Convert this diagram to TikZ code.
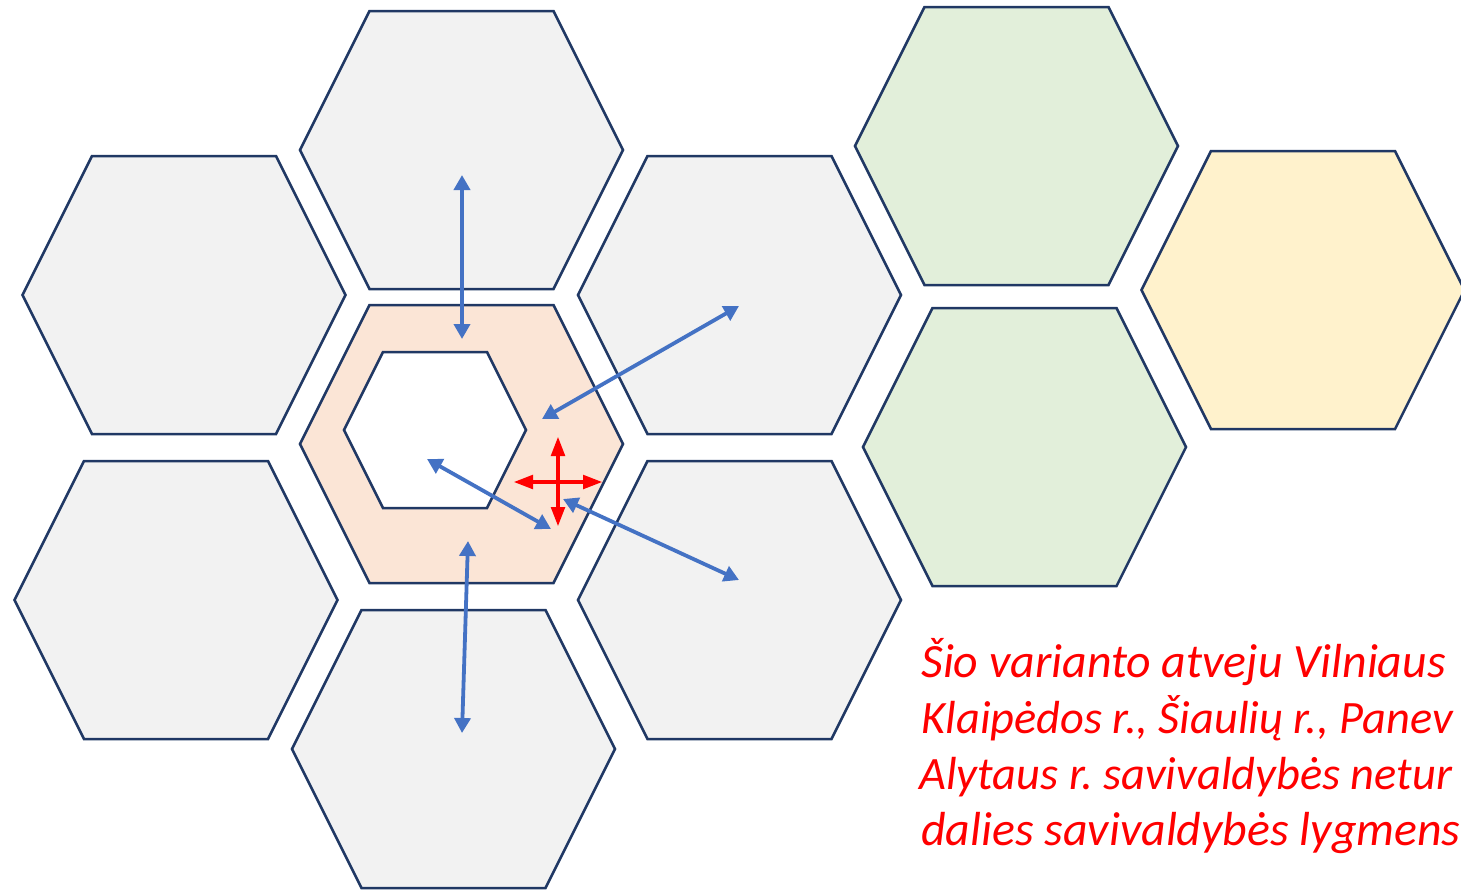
\documentclass[tikz,border=0pt]{standalone}
\usepackage{fontspec}
\newfontfamily\calib{Carlito}
\usetikzlibrary{arrows.meta}
\frenchspacing
\definecolor{hexline}{HTML}{203864}
\definecolor{hexgray}{HTML}{F2F2F2}
\definecolor{hexpeach}{HTML}{FBE5D6}
\definecolor{hexgreen}{HTML}{E2EFDA}
\definecolor{hexyellow}{HTML}{FFF2CC}
\definecolor{arrblue}{HTML}{4472C4}
\definecolor{arrred}{HTML}{FF0000}
\tikzset{
  hexstroke/.style={draw=hexline,line width=1.25pt,line join=miter},
  bluearrow/.style={draw=arrblue,line width=1.9pt,{Triangle[length=7.5pt,width=8pt]}-{Triangle[length=7.5pt,width=8pt]}},
  redarrow/.style={draw=arrred,line width=2.4pt,{Triangle[length=10pt,width=6.5pt]}-{Triangle[length=10pt,width=6.5pt]}},
  note/.style={anchor=base west,inner sep=0pt,text=arrred,font=\calib\itshape\fontsize{23.9}{28}\selectfont},
  notetight/.style={note,font=\calib\itshape\fontsize{23.2}{28}\selectfont}
}
\newcommand{\hexcell}[3]{%
  \draw[hexstroke,fill=#3] ({#1-161.5},#2) -- ({#1-92},{#2-139}) -- ({#1+92},{#2-139})
    -- ({#1+161.5},#2) -- ({#1+92},{#2+139}) -- ({#1-92},{#2+139}) -- cycle;}
\begin{document}
\begin{tikzpicture}[x=0.5pt,y=-0.5pt]
\useasboundingbox (0,0) rectangle (1461,890);
\begin{scope}
\clip (0,0) rectangle (1461,890);
% hexagons
\hexcell{461.5}{150}{hexgray}
\hexcell{184}{295}{hexgray}
\hexcell{739.5}{295}{hexgray}
\hexcell{461.5}{444}{hexpeach}
\hexcell{176}{600}{hexgray}
\hexcell{739.5}{600}{hexgray}
\hexcell{453.5}{749}{hexgray}
\hexcell{1016.5}{146}{hexgreen}
\hexcell{1024.5}{447}{hexgreen}
\hexcell{1303}{290}{hexyellow}
% inner white hexagon
\draw[hexstroke,fill=white] (344,430) -- (383,352) -- (487,352) -- (526,430) -- (487,508) -- (383,508) -- cycle;
% arrow end points
\coordinate (tA) at (462,175);
\coordinate (tB) at (462,339);
\coordinate (rA) at (739,306);
\coordinate (rB) at (542,419);
\coordinate (bA) at (468,541);
\coordinate (bB) at (462,733);
\coordinate (iA) at (427,459);
\coordinate (iB) at (551,529);
\coordinate (lA) at (563,499);
\coordinate (lB) at (739,580);
\coordinate (vA) at (558,436);
\coordinate (vB) at (558,527);
\coordinate (hA) at (513,482);
\coordinate (hB) at (603,482);
% blue arrows
\draw[bluearrow] (tA) -- (tB);
\draw[bluearrow] (rA) -- (rB);
\draw[bluearrow] (bA) -- (bB);
\draw[bluearrow] (iA) -- (iB);
\draw[bluearrow] (lA) -- (lB);
% red cross
\draw[redarrow] (vA) -- (vB);
\draw[redarrow] (hA) -- (hB);
\end{scope}
% text (as much as the picture shows)
\node[note] (n1) at (921,677) {Šio varianto atveju Vilniaus};
\node[notetight] (n2) at (921,733) {Klaipėdos r., Šiaulių r., Panev};
\node[notetight] (n3) at (919,789) {Alytaus r. savivaldybės netur};
\node[note] (n4) at (921,845) {dalies savivaldybės lygmens};
\end{tikzpicture}
\end{document}
